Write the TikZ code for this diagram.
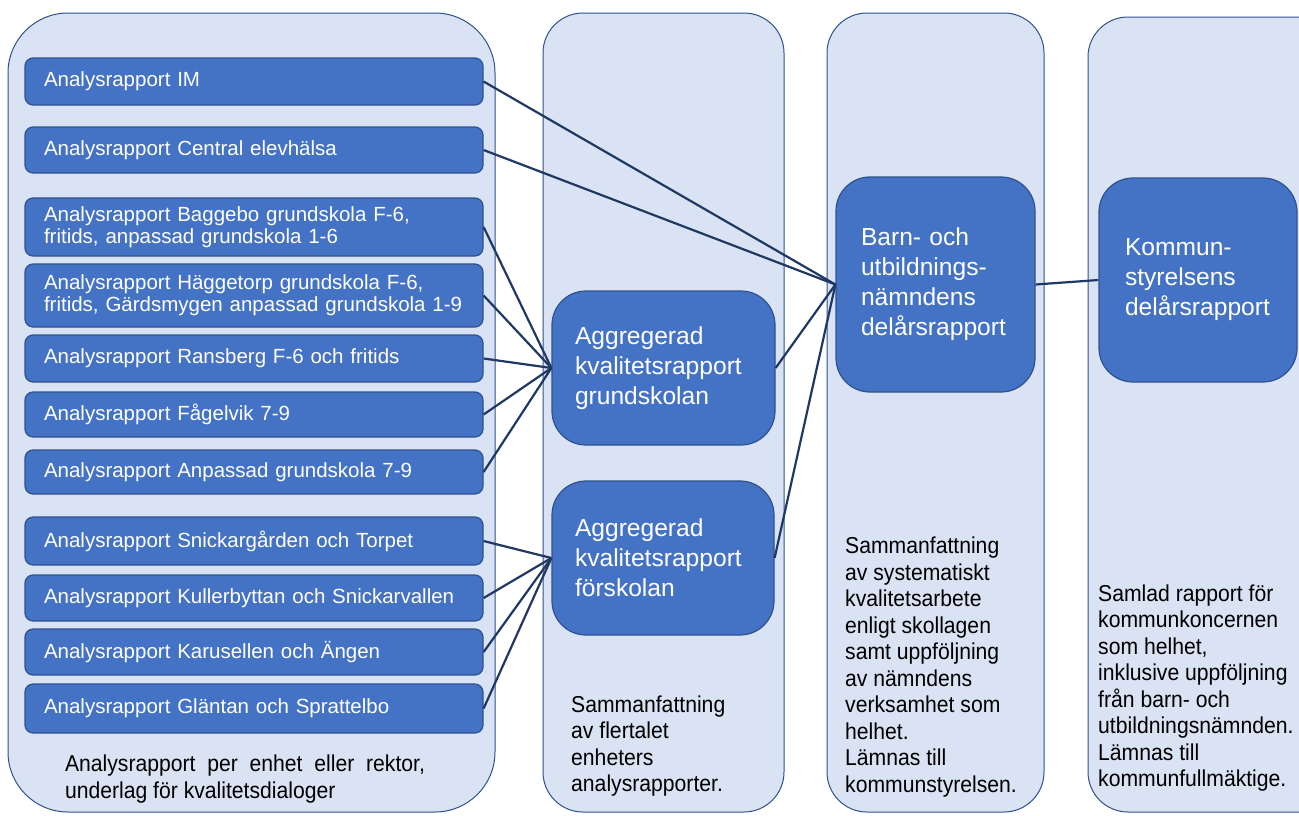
\documentclass[tikz,border=0pt]{standalone}
\usepackage{fontspec}
\setmainfont{Liberation Sans}
\newfontfamily\capfont[FakeStretch=0.92]{Liberation Sans}
\definecolor{lanefill}{HTML}{DAE3F3}
\definecolor{laneborder}{HTML}{2F528F}
\definecolor{boxfill}{HTML}{4472C4}
\definecolor{boxborder}{HTML}{2F528F}
\definecolor{wirecol}{HTML}{1F3864}
\begin{document}
\begin{tikzpicture}[x=1pt,y=-1pt,
 lane/.style={draw=laneborder, fill=lanefill, line width=1pt},
 unit/.style={draw=boxborder, fill=boxfill, line width=1.2pt, rounded corners=8pt, text=white,
   font=\fontsize{20.5}{22}\selectfont, text width=420pt, inner xsep=19pt, inner ysep=0pt, align=left},
 agg/.style={draw=boxborder, fill=boxfill, line width=1.2pt, rounded corners=34pt, text=white,
   font=\fontsize{24.6}{30}\selectfont, inner ysep=0pt, align=left},
 captext/.style={font=\capfont\fontsize{23}{26.5}\selectfont, inner sep=0pt, align=left},
 link/.style={draw=wirecol, line width=2.2pt}
]
\fill[white] (0,0) rectangle (1299,815);
\clip (0,0) rectangle (1299,815);
% lanes
\draw[lane, rounded corners=60pt] (8,13) rectangle (495,812);
\draw[lane, rounded corners=40pt] (543,13) rectangle (784,812);
\draw[lane, rounded corners=40pt] (827,13) rectangle (1044,812);
\draw[lane, rounded corners=40pt] (1088,17) rectangle (1340,812);

% unit reports
\node[unit, minimum height=47pt] (u1) at (254,81.5) {Analysrapport IM};
\node[unit, minimum height=46pt] (u2) at (254,150) {Analysrapport Central elevhälsa};
\node[unit, minimum height=58pt] (u3) at (254,227) {Analysrapport Baggebo grundskola F-6,\\fritids, anpassad grundskola 1-6};
\node[unit, minimum height=63pt] (u4) at (254,295.5) {Analysrapport Häggetorp grundskola F-6,\\fritids, Gärdsmygen anpassad grundskola 1-9};
\node[unit, minimum height=47pt] (u5) at (254,358.5) {Analysrapport Ransberg F-6 och fritids};
\node[unit, minimum height=45pt] (u6) at (254,414.5) {Analysrapport Fågelvik 7-9};
\node[unit, minimum height=44pt] (u7) at (254,472) {Analysrapport Anpassad grundskola 7-9};
\node[unit, minimum height=48pt] (u8) at (254,541) {Analysrapport Snickargården och Torpet};
\node[unit, minimum height=46pt] (u9) at (254,598) {Analysrapport Kullerbyttan och Snickarvallen};
\node[unit, minimum height=46pt] (u10) at (254,652) {Analysrapport Karusellen och Ängen};
\node[unit, minimum height=49pt] (u11) at (254,708.5) {Analysrapport Gläntan och Sprattelbo};

% aggregated
\node[agg, text width=177pt, inner xsep=23pt, minimum height=154pt] (gs) at (663.5,368) {Aggregerad\\kvalitetsrapport\\grundskolan};
\node[agg, text width=176pt, inner xsep=23pt, minimum height=154pt] (fs) at (663,558) {Aggregerad\\kvalitetsrapport\\förskolan};
\node[agg, text width=149pt, inner xsep=25pt, minimum height=215pt] (bun) at (935.5,284.5) {Barn- och\\utbildnings-\\nämndens\\delårsrapport};
\node[agg, text width=146pt, inner xsep=26pt, minimum height=204pt] (ks) at (1198,280) {Kommun-\\styrelsens\\delårsrapport};

% connectors (drawn behind boxes)
\begin{scope}[on background layer/.style={}]
\end{scope}
\draw[link] (u1.east) -- (bun.west);
\draw[link] (u2.east) -- (bun.west);
\foreach \u in {u3,u4,u5,u6,u7} \draw[link] (\u.east) -- (gs.west);
\foreach \u in {u8,u9,u10,u11} \draw[link] (\u.east) -- (fs.west);
\draw[link] (gs.east) -- (bun.west);
\draw[link] (fs.east) -- (bun.west);
\draw[link] (bun.east) -- (ks.west);

% captions
\node[captext, text width=360pt, align=justify] (c1) at (245,779) {Analysrapport per enhet eller rektor,\linebreak underlag för kvalitetsdialoger};
\node[captext, anchor=west] (c2) at (571,746) {Sammanfattning\\av flertalet\\enheters\\analysrapporter.};
\node[captext, anchor=west] (c3) at (845,667) {Sammanfattning\\av systematiskt\\kvalitetsarbete\\enligt skollagen\\samt uppföljning\\av nämndens\\verksamhet som\\helhet.\\Lämnas till\\kommunstyrelsen.};
\node[captext, anchor=west] (c4) at (1098,688) {Samlad rapport för\\kommunkoncernen\\som helhet,\\inklusive uppföljning\\från barn- och\\utbildningsnämnden.\\Lämnas till\\kommunfullmäktige.};
\end{tikzpicture}
\end{document}
